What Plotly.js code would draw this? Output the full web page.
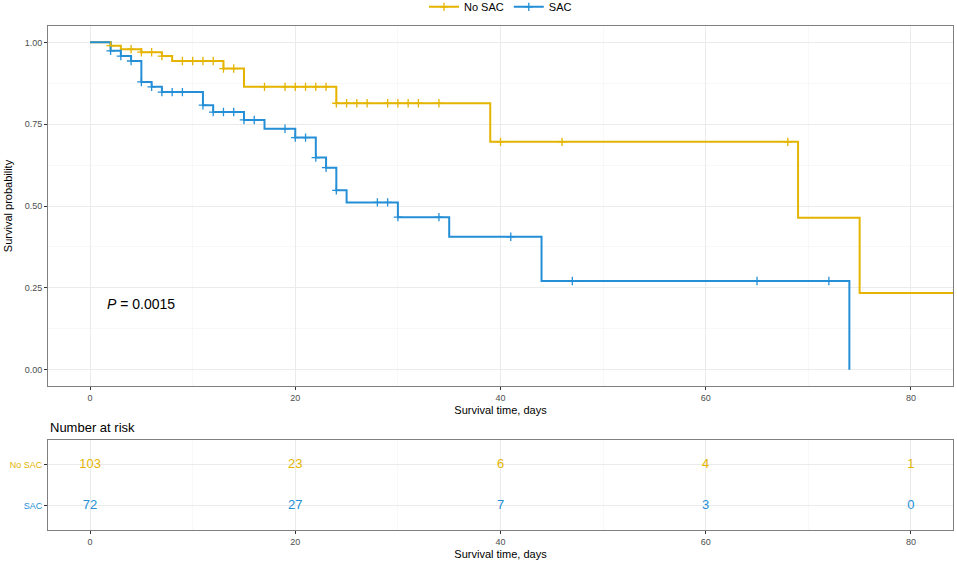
<!DOCTYPE html>
<html>
<head>
<meta charset="utf-8">
<script src="https://cdn.plot.ly/plotly-3.0.1.min.js"></script>
<style>
  body { margin: 0; background: #fff; }
  #chart { width: 957px; height: 561px; }
</style>
</head>
<body>
<div id="chart"></div>
<script>
// Kaplan-Meier steps (time in days, survival probability)
const noSacTime = [0, 2, 3, 5, 7, 8, 13, 15, 24, 39, 69, 75, 85];
const noSacSurv = [1, 0.990, 0.979, 0.970, 0.958, 0.943, 0.920, 0.864, 0.814, 0.696, 0.464, 0.234, 0.234];
const noSacCensor = [2, 4, 5, 6, 7, 9, 10, 11, 12, 13, 14, 17, 19, 20, 21, 22, 23, 24, 25, 26, 27, 29, 30, 31, 32, 34, 40, 46, 68];

const sacTime = [0, 2, 3, 4, 5, 6, 7, 11, 12, 15, 17, 20, 22, 23, 24, 25, 30, 35, 44, 74];
const sacSurv = [1, 0.974, 0.958, 0.943, 0.879, 0.864, 0.848, 0.808, 0.787, 0.763, 0.736, 0.709, 0.648, 0.617, 0.548, 0.511, 0.466, 0.406, 0.271, 0];
const sacCensor = [2, 3, 4, 5, 6, 7, 8, 9, 11, 12, 13, 14, 15, 16, 19, 20, 21, 22, 23, 24, 28, 29, 30, 34, 41, 47, 65, 72];

// number at risk table
const riskTimes = [0, 20, 40, 60, 80];
const noSacRisk = [103, 23, 6, 4, 1];
const sacRisk = [72, 27, 7, 3, 0];

const groupNames = ["No SAC", "SAC"];
const pValueText = "<i>P</i> = 0.0015";

const yellow = "#E4B400";
const blue = "#248FD6";
const font = "Liberation Sans, Arial, sans-serif";

function survAt(times, surv, t) {
    let s = surv[0];
    for (let i = 0; i < times.length; i++) {
        if (times[i] <= t) s = surv[i];
    }
    return s;
}

function stepTrace(times, surv, color) {
    return {
        x: times, y: surv, mode: "lines",
        line: { shape: "hv", color: color, width: 2 },
        showlegend: false, hoverinfo: "skip",
        xaxis: "x", yaxis: "y"
    };
}

function censorTrace(times, stepTimes, stepSurv, color) {
    return {
        x: times,
        y: times.map(t => survAt(stepTimes, stepSurv, t)),
        mode: "markers",
        marker: { symbol: "cross-thin", size: 6, line: { color: color, width: 1.3 } },
        showlegend: false, hoverinfo: "skip",
        xaxis: "x", yaxis: "y"
    };
}

function legendTrace(name, color) {
    return {
        x: [null], y: [null], mode: "lines+markers", name: name,
        line: { color: color, width: 2 },
        marker: { symbol: "cross-thin", size: 6, line: { color: color, width: 1.3 } },
        xaxis: "x", yaxis: "y"
    };
}

function riskTrace(counts, row, color) {
    return {
        x: riskTimes, y: riskTimes.map(() => row),
        mode: "text", text: counts.map(String),
        textfont: { family: font, size: 13, color: color },
        textposition: "middle center",
        showlegend: false, hoverinfo: "skip",
        xaxis: "x2", yaxis: "y2"
    };
}

let data = [
    stepTrace(noSacTime, noSacSurv, yellow),
    stepTrace(sacTime, sacSurv, blue),
    censorTrace(noSacCensor, noSacTime, noSacSurv, yellow),
    censorTrace(sacCensor, sacTime, sacSurv, blue),
    legendTrace(groupNames[0], yellow),
    legendTrace(groupNames[1], blue),
    riskTrace(noSacRisk, 2, yellow),
    riskTrace(sacRisk, 1, blue)
];

let xRange = [-4.1, 84.1];
let tickFont = { family: font, size: 9, color: "#4D4D4D" };
let border = "#7F7F7F";

let layout = {
    width: 957, height: 561,
    margin: { l: 48, r: 4, t: 26, b: 31, autoexpand: false },
    paper_bgcolor: "#fff", plot_bgcolor: "#fff",
    font: { family: font, color: "#000" },
    showlegend: true,
    legend: {
        orientation: "h", x: 0.5, xanchor: "center", y: 1.038, yanchor: "middle",
        font: { family: font, size: 11, color: "#000" },
        itemwidth: 30, tracegroupgap: 0
    },
    xaxis: {
        domain: [0, 1], anchor: "y", range: xRange,
        dtick: 20, tick0: 0, showgrid: true, gridcolor: "#EBEBEB", gridwidth: 1,
        minor: { dtick: 10, showgrid: true, gridcolor: "#F4F4F4", gridwidth: 0.6 },
        zeroline: false, showline: true, mirror: true, linecolor: border, linewidth: 1,
        ticks: "outside", ticklen: 3, tickcolor: "#333", tickfont: tickFont,
        title: { text: "Survival time, days", font: { family: font, size: 11, color: "#000" }, standoff: 4 }
    },
    yaxis: {
        domain: [0.2857, 1], anchor: "x", range: [-0.05, 1.05],
        dtick: 0.25, tick0: 0, tickformat: ".2f",
        showgrid: true, gridcolor: "#EBEBEB", gridwidth: 1,
        minor: { dtick: 0.125, showgrid: true, gridcolor: "#F4F4F4", gridwidth: 0.6 },
        zeroline: false, showline: true, mirror: true, linecolor: border, linewidth: 1,
        ticks: "outside", ticklen: 3, tickcolor: "#333", tickfont: tickFont,
        title: { text: "Survival probability", font: { family: font, size: 11, color: "#000" }, standoff: 9 }
    },
    xaxis2: {
        domain: [0, 1], anchor: "y2", range: xRange,
        dtick: 20, tick0: 0, showgrid: true, gridcolor: "#EBEBEB", gridwidth: 1,
        minor: { dtick: 10, showgrid: true, gridcolor: "#F4F4F4", gridwidth: 0.6 },
        zeroline: false, showline: true, mirror: true, linecolor: border, linewidth: 1,
        ticks: "outside", ticklen: 3, tickcolor: "#333", tickfont: tickFont,
        title: { text: "Survival time, days", font: { family: font, size: 11, color: "#000" }, standoff: 4 }
    },
    yaxis2: {
        domain: [0, 0.1786], anchor: "x2", range: [0.4, 2.6],
        tickvals: [2, 1],
        ticktext: [
            '<span style="color:' + yellow + '">' + groupNames[0] + '</span>',
            '<span style="color:' + blue + '">' + groupNames[1] + '</span>'
        ],
        showgrid: true, gridcolor: "#EBEBEB", gridwidth: 1,
        zeroline: false, showline: true, mirror: true, linecolor: border, linewidth: 1,
        ticks: "outside", ticklen: 3, tickcolor: "#333", tickfont: tickFont
    },
    annotations: [
        {
            text: pValueText, xref: "x", yref: "y", x: 1.5, y: 0.2,
            xanchor: "left", yanchor: "middle", showarrow: false,
            font: { family: font, size: 14, color: "#000" }
        },
        {
            text: "Number at risk", xref: "paper", yref: "paper", x: 0, y: 0.1786,
            xanchor: "left", yanchor: "bottom", yshift: 3, showarrow: false,
            font: { family: font, size: 13, color: "#000" }
        }
    ]
};

Plotly.newPlot("chart", data, layout, { displayModeBar: false, staticPlot: true });
</script>
</body>
</html>
